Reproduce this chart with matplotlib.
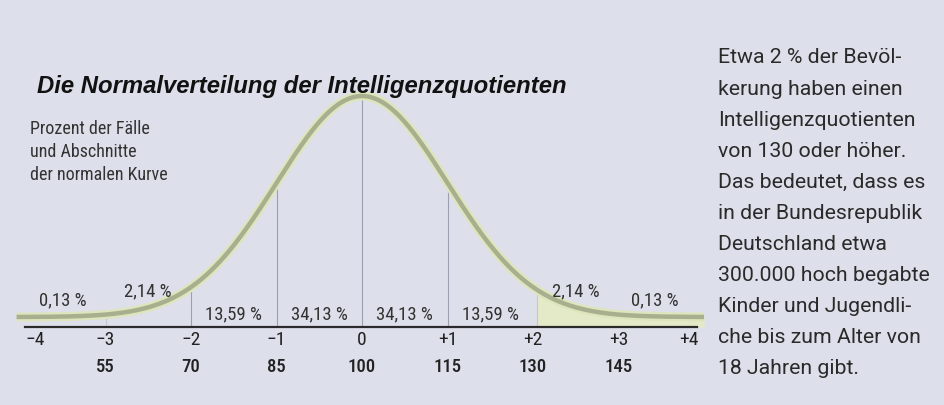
import numpy as np
import matplotlib.pyplot as plt

# sigma positions and IQ values
z_ticks = [-4, -3, -2, -1, 0, 1, 2, 3, 4]
z_labels = ['\u22124', '\u22123', '\u22122', '\u22121', '0', '+1', '+2', '+3', '+4']
iq_z = [-3, -2, -1, 0, 1, 2, 3]
iq_values = ['55', '70', '85', '100', '115', '130', '145']

# percent of cases per segment
seg_left = [-4, -3, -2, -1, 0, 1, 2, 3]
seg_right = [-3, -2, -1, 0, 1, 2, 3, 4]
seg_pct = ['0,13 %', '2,14 %', '13,59 %', '34,13 %', '34,13 %', '13,59 %', '2,14 %', '0,13 %']

title = 'Die Normalverteilung der Intelligenzquotienten'
note = ['Prozent der Fälle', 'und Abschnitte', 'der normalen Kurve']
side_text = ['Etwa 2 % der Bevöl-', 'kerung haben einen', 'Intelligenzquotienten',
             'von 130 oder höher.', 'Das bedeutet, dass es', 'in der Bundesrepublik',
             'Deutschland etwa', '300.000 hoch begabte', 'Kinder und Jugendli-',
             'che bis zum Alter von', '18 Jahren gibt.']

cond = ['Roboto Condensed', 'Roboto', 'DejaVu Sans']
plt.rcParams['font.family'] = cond
W, H = 944, 406
bg = '#dde0ea'
fig = plt.figure(figsize=(W / 100, H / 100), dpi=100, facecolor=bg)

# axes: x=-4 at 20px, x=+4 at 704px; y=0 at 328px from top, 554 px per unit
ax = fig.add_axes([20 / W, 78 / H, 684 / W, 328 / H])
ax.set_xlim(-4, 4)
ax.set_ylim(0, 328 / 554)
ax.axis('off')

base = 0.018
x = np.linspace(-4.04, 4.0, 600)
pdf = np.exp(-x ** 2 / 2) / np.sqrt(2 * np.pi)
y = base + pdf

# light fill under the right tail
mask = x >= 2.05
ax.fill_between(x[mask], 0, y[mask], color='#e4eac8', lw=0, zorder=1)

# vertical section lines
for zv in [-2, -1, 0, 1]:
    yv = base + np.exp(-zv ** 2 / 2) / np.sqrt(2 * np.pi)
    ax.plot([zv, zv], [0, yv], color='#9c9fb0', lw=0.8, zorder=2)
for zv in [-3, 2.05]:
    yv = base + np.exp(-zv ** 2 / 2) / np.sqrt(2 * np.pi)
    ax.plot([zv, zv], [0, yv], color='#c4c8cf', lw=0.8, zorder=2)

# curve with soft glow
ax.plot(x, y, color='#dde5bd', lw=6.5, solid_capstyle='butt', zorder=3, clip_on=False)
ax.plot(x, y, color='#a7af8e', lw=3.2, solid_capstyle='butt', zorder=4, clip_on=False)

# base axis line
ax.plot([-3.94, 3.92], [0, 0], color='#2a2a2a', lw=1.6, zorder=5, clip_on=False)

# percentage labels
for l, r, p in zip(seg_left, seg_right, seg_pct):
    mid = (l + r) / 2
    if abs(mid) > 2:
        yl = base + np.exp(-mid ** 2 / 2) / np.sqrt(2 * np.pi) + 0.031
    else:
        yl = 0.025
    if mid == 3.5:
        mid = 3.43
    ax.text(mid, yl, p, ha='center', va='center', fontsize=13.5, color='#333333')

# sigma tick labels
for zv, lab in zip(z_ticks, z_labels):
    ha = 'center'
    xx = zv
    if zv == -4:
        ha, xx = 'left', -3.94
    elif zv == 4:
        ha, xx = 'right', 3.94
    ax.text(xx, -0.0225, lab, ha=ha, va='center', fontsize=14,
            color='#222222', clip_on=False)

# IQ labels
for zv, lab in zip(iq_z, iq_values):
    ax.text(zv, -0.071, lab, ha='center', va='center', fontsize=13.5,
            color='#222222', fontweight='medium', clip_on=False)

# title and notes
fig.text(37 / W, 1 - 86 / H, title, ha='left', va='center', fontsize=17.2,
         fontweight='bold', fontstyle='italic', color='#111111',
         family=['Liberation Sans', 'DejaVu Sans'])
for i, line in enumerate(note):
    fig.text(30 / W, 1 - (129 + 23 * i) / H, line, ha='left', va='center',
             fontsize=13, color='#333333')

for i, line in enumerate(side_text):
    fig.text(718 / W, 1 - (58 + 31.1 * i) / H, line, ha='left', va='center',
             fontsize=15.3, color='#2a2a2a', family=['Roboto', 'DejaVu Sans'])

fig.savefig('out.png', dpi=100, facecolor=bg)
